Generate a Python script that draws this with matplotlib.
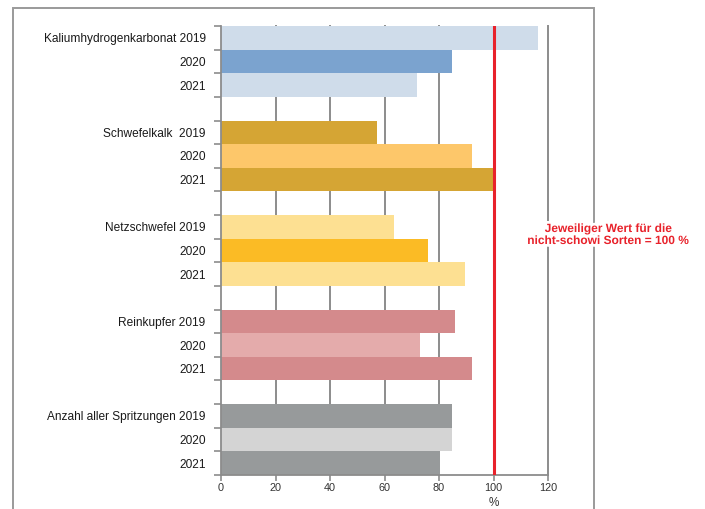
import matplotlib
matplotlib.use("Agg")
import matplotlib.pyplot as plt
from matplotlib.patches import Rectangle
import matplotlib.patheffects as pe

plt.rcParams['font.family'] = ['Liberation Sans', 'DejaVu Sans']

# Mittel (Fungizideinsatz) je Jahr, relativ zu nicht-schowi Sorten (= 100 %)
groups = ["Kaliumhydrogenkarbonat", "Schwefelkalk ", "Netzschwefel", "Reinkupfer",
          "Anzahl aller Spritzungen"]
years = ["2019", "2020", "2021"]
values = [
    [116.2, 84.7, 72.0],   # Kaliumhydrogenkarbonat
    [57.1, 92.0, 100.0],   # Schwefelkalk
    [63.4, 76.1, 89.7],    # Netzschwefel
    [85.7, 73.1, 92.1],    # Reinkupfer
    [84.8, 84.8, 80.4],    # Anzahl aller Spritzungen
]
colors = [
    ["#cfdcea", "#7ba3cf", "#cfdcea"],
    ["#d5a534", "#fdc76a", "#d5a534"],
    ["#fde092", "#fbbb25", "#fde092"],
    ["#d48a8c", "#e4abab", "#d48a8c"],
    ["#979a9b", "#d4d4d4", "#979a9b"],
]
x_ticks = [0, 20, 40, 60, 80, 100, 120]
reference_value = 100
note = "Jeweiliger Wert für die\nnicht-schowi Sorten = 100 %"

fig = plt.figure(figsize=(7.05, 5.09), dpi=100)
W, H = 705, 509
ax = fig.add_axes([221 / W, 1 - 475 / H, (548 - 221) / W, (475 - 26) / H])

pos, labels = [], []
for g, name in enumerate(groups):
    for k, yr in enumerate(years):
        y = g * 4 + k
        ax.barh(y, values[g][k], height=1.0, color=colors[g][k], zorder=2)
        pos.append(y)
        labels.append(f"{name} {yr}" if k == 0 else yr)

n_slots = len(groups) * 4 - 1
ax.set_ylim(n_slots - 0.5, -0.5)
ax.set_xlim(0, 120)

# vertical grid lines
for x in x_ticks[1:]:
    if x != reference_value:
        ax.axvline(x, color="#8c8c8c", lw=1.4, zorder=1, clip_on=False)
ax.axvline(reference_value, color="#e8222b", lw=2.2, zorder=3)

ax.set_yticks(pos)
ax.set_yticklabels(labels, fontsize=8.6, color="#1a1a1a")
ax.tick_params(axis="y", which="major", length=0, pad=11)
ax.set_yticks([i - 0.5 for i in range(n_slots + 1)], minor=True)
ax.tick_params(axis="y", which="minor", length=5, width=1.2, color="#8c8c8c", direction="out")

ax.set_xticks(x_ticks)
ax.set_xticklabels([str(t) for t in x_ticks], fontsize=7.8, color="#333333")
ax.tick_params(axis="x", length=4, width=1.2, color="#8c8c8c", pad=2)
ax.text(reference_value, -0.05, "%", transform=ax.get_xaxis_transform(),
        ha="center", va="top", fontsize=8.5, color="#333333")

for s in ["top", "right"]:
    ax.spines[s].set_visible(False)
for s in ["left", "bottom"]:
    ax.spines[s].set_color("#8c8c8c")
    ax.spines[s].set_linewidth(1.3)

# outer frame
fig.add_artist(Rectangle((13 / W, -0.1), (594 - 13) / W, 1 - 8 / H + 0.1,
                         transform=fig.transFigure, fill=False,
                         edgecolor="#9a9a9a", lw=1.4, zorder=0))

fig.text(608 / W, 1 - 235 / H, note, ha="center", va="center", fontsize=8.6,
         fontweight="bold", color="#e8222b", linespacing=1.0,
         path_effects=[pe.withStroke(linewidth=4, foreground="white")], zorder=5)

fig.savefig("out.png", dpi=100, facecolor="white")
